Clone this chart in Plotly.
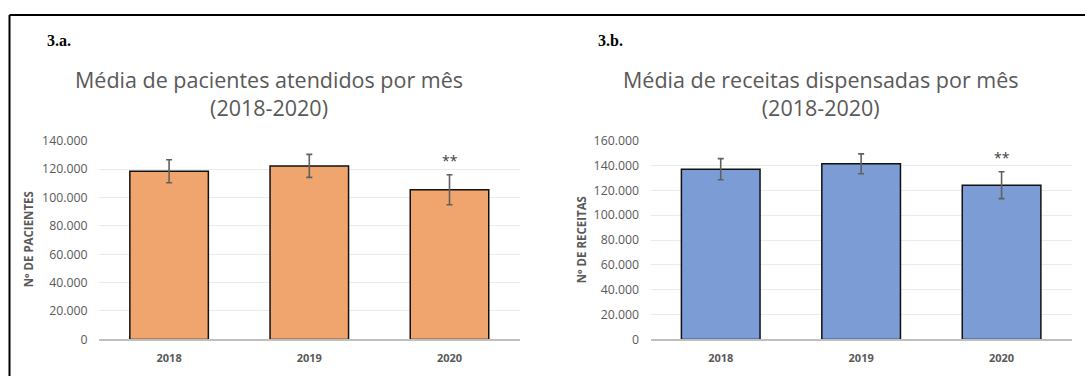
import plotly.graph_objects as go

years = ["2018", "2019", "2020"]
pacientes_mean = [118400, 122200, 105400]
pacientes_err = [8100, 8100, 10600]
receitas_mean = [137000, 141300, 124100]
receitas_err = [8500, 8000, 10800]
signif = ["", "", "**"]

W, H = 1085, 376
# the photographed page shows the figure vertically between y=8 and y=368
TOP, SPAN = 8, 360
def px(x):
    return x / W
def py(y):
    return 1 - (y - TOP) / SPAN

pos = list(range(len(years)))

fig = go.Figure()

fig.add_trace(go.Bar(
    x=pos, y=pacientes_mean, xaxis="x", yaxis="y",
    marker=dict(color="#F0A46E", line=dict(color="#111111", width=1.5)),
    error_y=dict(type="data", array=pacientes_err, color="#606060", thickness=1.6, width=3),
    width=0.56, showlegend=False,
))
fig.add_trace(go.Bar(
    x=pos, y=receitas_mean, xaxis="x2", yaxis="y2",
    marker=dict(color="#7B9CD5", line=dict(color="#111111", width=1.5)),
    error_y=dict(type="data", array=receitas_err, color="#606060", thickness=1.6, width=3),
    width=0.56, showlegend=False,
))

axis_common_x = dict(
    type="linear", range=[-0.5, len(years) - 0.5], tickvals=pos, ticktext=years,
    showgrid=False, zeroline=False, showline=True, linecolor="#BFBFBF", linewidth=1.5,
    ticks="outside", ticklen=8, tickcolor="rgba(0,0,0,0)",
    tickfont=dict(family="Open Sans", size=11, color="#595959", weight="bold"),
    fixedrange=True,
)
axis_common_y = dict(
    showgrid=True, gridcolor="#EBEBEB", gridwidth=1, zeroline=False, showline=False,
    dtick=20000, tickformat=",.0f",
    ticks="outside", ticklen=8, tickcolor="rgba(0,0,0,0)",
    tickfont=dict(family="Open Sans", size=12.3, color="#595959"),
    fixedrange=True,
)

ydom = [py(339.3), py(140)]
fig.update_layout(
    width=W, height=H,
    margin=dict(l=0, r=0, t=0, b=0),
    paper_bgcolor="white", plot_bgcolor="white",
    separators=",.",
    xaxis=dict(domain=[px(99), px(519.6)], anchor="y", **axis_common_x),
    yaxis=dict(domain=ydom, anchor="x", range=[0, 140000], **axis_common_y),
    xaxis2=dict(domain=[px(650.5), px(1071.8)], anchor="y2", **axis_common_x),
    yaxis2=dict(domain=ydom, anchor="x2", range=[0, 160000], **axis_common_y),
)

title_font = dict(family="Open Sans", size=21.5, color="#595959")
label_font = dict(family="Liberation Serif", size=16, color="black", weight="bold")
ytitle_font = dict(family="Open Sans", size=11.5, color="#595959", weight="bold")
annotations = [
    dict(text="3.a.", x=px(45), y=py(40), xref="paper", yref="paper", xanchor="left", yanchor="middle",
         showarrow=False, font=label_font),
    dict(text="3.b.", x=px(595.5), y=py(40), xref="paper", yref="paper", xanchor="left", yanchor="middle",
         showarrow=False, font=label_font),
    dict(text="Média de pacientes atendidos por mês<br>(2018-2020)", x=px(268.5), y=py(93), xref="paper", yref="paper",
         xanchor="center", yanchor="middle", showarrow=False, font=title_font, align="center"),
    dict(text="Média de receitas dispensadas por mês<br>(2018-2020)", x=px(820.5), y=py(93), xref="paper", yref="paper",
         xanchor="center", yanchor="middle", showarrow=False, font=title_font, align="center"),
    dict(text="Nº DE PACIENTES", x=px(28.5), y=py(239.5), xref="paper", yref="paper", textangle=-90,
         xanchor="center", yanchor="middle", showarrow=False, font=ytitle_font),
    dict(text="Nº DE RECEITAS", x=px(581), y=py(240), xref="paper", yref="paper", textangle=-90,
         xanchor="center", yanchor="middle", showarrow=False, font=ytitle_font),
]
for p, m, e, s in zip(pos, pacientes_mean, pacientes_err, signif):
    if s:
        annotations.append(dict(text=s, x=p, y=m + e, xref="x", yref="y", xanchor="center", yanchor="bottom",
                                yshift=3, showarrow=False, font=dict(family="Open Sans", size=14, color="#404040")))
for p, m, e, s in zip(pos, receitas_mean, receitas_err, signif):
    if s:
        annotations.append(dict(text=s, x=p, y=m + e, xref="x2", yref="y2", xanchor="center", yanchor="bottom",
                                yshift=3, showarrow=False, font=dict(family="Open Sans", size=14, color="#404040")))
fig.update_layout(annotations=annotations)

# outer frame (top and left edges visible)
fig.add_shape(type="line", xref="paper", yref="paper", x0=px(9.5), x1=1.01, y0=py(14), y1=py(14),
              line=dict(color="black", width=2))
fig.add_shape(type="line", xref="paper", yref="paper", x0=px(9.5), x1=px(9.5), y0=py(14), y1=-0.1,
              line=dict(color="black", width=2))

fig.write_html("out.html", config=dict(responsive=False, displayModeBar=False))
